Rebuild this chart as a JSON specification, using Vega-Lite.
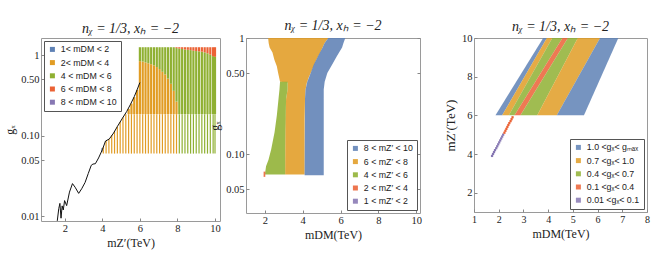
{
  "$schema": "https://vega.github.io/schema/vega-lite/v6.json",
  "padding": {"left": 3, "top": 18, "right": 4, "bottom": 2},
  "spacing": -13,
  "config": {
    "view": {"stroke": "#9a9a9a", "strokeWidth": 1},
    "font": "Liberation Serif",
    "axis": {"grid": false, "domain": false, "labelFont": "Liberation Serif", "labelFontSize": 10.5, "labelColor": "#222", "titleFont": "Liberation Serif", "titleFontSize": 12, "titleFontWeight": "normal", "titleColor": "#222", "tickColor": "#888", "tickSize": -3, "labelPadding": 5, "titlePadding": 4, "labelOverlap": false, "labelFlush": false, "labelSeparation": 0},
    "legend": {"title": null, "symbolType": "square", "symbolSize": 25, "symbolStrokeWidth": 0, "labelFont": "Liberation Sans", "labelFontSize": 8.8, "labelColor": "#222", "padding": 4, "strokeColor": "#555", "fillColor": "white", "rowPadding": 3.2, "offset": 3},
    "title": {"font": "Liberation Serif", "fontSize": 14, "fontWeight": "normal", "fontStyle": "italic", "color": "#222", "offset": 0}
  },
  "resolve": {"scale": {"color": "independent"}, "legend": {"color": "independent"}},
  "datasets": {
    "p1": [
      {"x": 3.98, "y": 0.063, "y2": 0.07, "c": "1< mDM < 2", "w": "thin"},
      {"x": 4.05, "y": 0.06, "y2": 0.072, "c": "2< mDM < 4", "w": "thin"},
      {"x": 4.2, "y": 0.06, "y2": 0.086, "c": "2< mDM < 4", "w": "thin"},
      {"x": 4.35, "y": 0.06, "y2": 0.091, "c": "2< mDM < 4", "w": "thin"},
      {"x": 4.5, "y": 0.06, "y2": 0.102, "c": "2< mDM < 4", "w": "thin"},
      {"x": 4.65, "y": 0.06, "y2": 0.115, "c": "2< mDM < 4", "w": "thin"},
      {"x": 4.8, "y": 0.06, "y2": 0.13, "c": "2< mDM < 4", "w": "thin"},
      {"x": 4.95, "y": 0.06, "y2": 0.148, "c": "2< mDM < 4", "w": "thin"},
      {"x": 5.1, "y": 0.06, "y2": 0.168, "c": "2< mDM < 4", "w": "thin"},
      {"x": 5.25, "y": 0.06, "y2": 0.185, "c": "2< mDM < 4", "w": "thin"},
      {"x": 5.4, "y": 0.06, "y2": 0.185, "c": "2< mDM < 4", "w": "thin"},
      {"x": 5.55, "y": 0.06, "y2": 0.185, "c": "2< mDM < 4", "w": "thin"},
      {"x": 5.7, "y": 0.06, "y2": 0.185, "c": "2< mDM < 4", "w": "thin"},
      {"x": 5.85, "y": 0.06, "y2": 0.185, "c": "2< mDM < 4", "w": "thin"},
      {"x": 6.0, "y": 0.06, "y2": 0.185, "c": "2< mDM < 4", "w": "thin"},
      {"x": 6.15, "y": 0.06, "y2": 0.185, "c": "2< mDM < 4", "w": "thin"},
      {"x": 6.3, "y": 0.06, "y2": 0.185, "c": "2< mDM < 4", "w": "thin"},
      {"x": 6.45, "y": 0.06, "y2": 0.185, "c": "2< mDM < 4", "w": "thin"},
      {"x": 6.6, "y": 0.06, "y2": 0.185, "c": "2< mDM < 4", "w": "thin"},
      {"x": 6.75, "y": 0.06, "y2": 0.185, "c": "2< mDM < 4", "w": "thin"},
      {"x": 6.9, "y": 0.06, "y2": 0.185, "c": "2< mDM < 4", "w": "thin"},
      {"x": 7.05, "y": 0.06, "y2": 0.185, "c": "2< mDM < 4", "w": "thin"},
      {"x": 7.2, "y": 0.06, "y2": 0.185, "c": "2< mDM < 4", "w": "thin"},
      {"x": 7.35, "y": 0.06, "y2": 0.185, "c": "2< mDM < 4", "w": "thin"},
      {"x": 7.5, "y": 0.06, "y2": 0.185, "c": "2< mDM < 4", "w": "thin"},
      {"x": 7.65, "y": 0.06, "y2": 0.185, "c": "2< mDM < 4", "w": "thin"},
      {"x": 7.8, "y": 0.06, "y2": 0.185, "c": "2< mDM < 4", "w": "thin"},
      {"x": 7.95, "y": 0.06, "y2": 0.185, "c": "2< mDM < 4", "w": "thin"},
      {"x": 8.1, "y": 0.06, "y2": 0.185, "c": "4 < mDM < 6", "w": "thin"},
      {"x": 8.25, "y": 0.06, "y2": 0.185, "c": "4 < mDM < 6", "w": "thin"},
      {"x": 8.4, "y": 0.06, "y2": 0.185, "c": "4 < mDM < 6", "w": "thin"},
      {"x": 8.55, "y": 0.06, "y2": 0.185, "c": "4 < mDM < 6", "w": "thin"},
      {"x": 8.7, "y": 0.06, "y2": 0.185, "c": "4 < mDM < 6", "w": "thin"},
      {"x": 8.85, "y": 0.06, "y2": 0.185, "c": "4 < mDM < 6", "w": "thin"},
      {"x": 9.0, "y": 0.06, "y2": 0.185, "c": "4 < mDM < 6", "w": "thin"},
      {"x": 9.15, "y": 0.06, "y2": 0.185, "c": "4 < mDM < 6", "w": "thin"},
      {"x": 9.3, "y": 0.06, "y2": 0.185, "c": "4 < mDM < 6", "w": "thin"},
      {"x": 9.45, "y": 0.06, "y2": 0.185, "c": "4 < mDM < 6", "w": "thin"},
      {"x": 9.6, "y": 0.06, "y2": 0.185, "c": "4 < mDM < 6", "w": "thin"},
      {"x": 9.75, "y": 0.06, "y2": 0.185, "c": "4 < mDM < 6", "w": "thin"},
      {"x": 9.9, "y": 0.06, "y2": 0.185, "c": "4 < mDM < 6", "w": "thin"},
      {"x": 10.0, "y": 0.06, "y2": 0.185, "c": "4 < mDM < 6", "w": "thin"},
      {"x": 5.4, "y": 0.185, "y2": 0.215, "c": "2< mDM < 4", "w": "thick"},
      {"x": 5.55, "y": 0.185, "y2": 0.25, "c": "2< mDM < 4", "w": "thick"},
      {"x": 5.7, "y": 0.185, "y2": 0.3, "c": "2< mDM < 4", "w": "thick"},
      {"x": 5.85, "y": 0.185, "y2": 0.37, "c": "2< mDM < 4", "w": "thick"},
      {"x": 6.0, "y": 0.185, "y2": 0.84, "c": "2< mDM < 4", "w": "thick"},
      {"x": 6.15, "y": 0.185, "y2": 0.83, "c": "2< mDM < 4", "w": "thick"},
      {"x": 6.3, "y": 0.185, "y2": 0.81, "c": "2< mDM < 4", "w": "thick"},
      {"x": 6.45, "y": 0.185, "y2": 0.79, "c": "2< mDM < 4", "w": "thick"},
      {"x": 6.6, "y": 0.185, "y2": 0.77, "c": "2< mDM < 4", "w": "thick"},
      {"x": 6.75, "y": 0.185, "y2": 0.745, "c": "2< mDM < 4", "w": "thick"},
      {"x": 6.9, "y": 0.185, "y2": 0.71, "c": "2< mDM < 4", "w": "thick"},
      {"x": 7.05, "y": 0.185, "y2": 0.67, "c": "2< mDM < 4", "w": "thick"},
      {"x": 7.2, "y": 0.185, "y2": 0.62, "c": "2< mDM < 4", "w": "thick"},
      {"x": 7.35, "y": 0.185, "y2": 0.575, "c": "2< mDM < 4", "w": "thick"},
      {"x": 7.5, "y": 0.185, "y2": 0.51, "c": "2< mDM < 4", "w": "thick"},
      {"x": 7.65, "y": 0.185, "y2": 0.44, "c": "2< mDM < 4", "w": "thick"},
      {"x": 7.8, "y": 0.185, "y2": 0.36, "c": "2< mDM < 4", "w": "thick"},
      {"x": 7.95, "y": 0.185, "y2": 0.265, "c": "2< mDM < 4", "w": "thick"},
      {"x": 6.0, "y": 0.84, "y2": 1.25, "c": "4 < mDM < 6", "w": "thick"},
      {"x": 6.15, "y": 0.83, "y2": 1.25, "c": "4 < mDM < 6", "w": "thick"},
      {"x": 6.3, "y": 0.81, "y2": 1.25, "c": "4 < mDM < 6", "w": "thick"},
      {"x": 6.45, "y": 0.79, "y2": 1.25, "c": "4 < mDM < 6", "w": "thick"},
      {"x": 6.6, "y": 0.77, "y2": 1.25, "c": "4 < mDM < 6", "w": "thick"},
      {"x": 6.75, "y": 0.745, "y2": 1.25, "c": "4 < mDM < 6", "w": "thick"},
      {"x": 6.9, "y": 0.71, "y2": 1.25, "c": "4 < mDM < 6", "w": "thick"},
      {"x": 7.05, "y": 0.67, "y2": 1.25, "c": "4 < mDM < 6", "w": "thick"},
      {"x": 7.2, "y": 0.62, "y2": 1.25, "c": "4 < mDM < 6", "w": "thick"},
      {"x": 7.35, "y": 0.575, "y2": 1.25, "c": "4 < mDM < 6", "w": "thick"},
      {"x": 7.5, "y": 0.51, "y2": 1.25, "c": "4 < mDM < 6", "w": "thick"},
      {"x": 7.65, "y": 0.44, "y2": 1.25, "c": "4 < mDM < 6", "w": "thick"},
      {"x": 7.8, "y": 0.36, "y2": 1.25, "c": "4 < mDM < 6", "w": "thick"},
      {"x": 7.95, "y": 0.265, "y2": 1.22, "c": "4 < mDM < 6", "w": "thick"},
      {"x": 8.1, "y": 0.185, "y2": 1.2, "c": "4 < mDM < 6", "w": "thick"},
      {"x": 8.25, "y": 0.185, "y2": 1.19, "c": "4 < mDM < 6", "w": "thick"},
      {"x": 8.4, "y": 0.185, "y2": 1.17, "c": "4 < mDM < 6", "w": "thick"},
      {"x": 8.55, "y": 0.185, "y2": 1.16, "c": "4 < mDM < 6", "w": "thick"},
      {"x": 8.7, "y": 0.185, "y2": 1.15, "c": "4 < mDM < 6", "w": "thick"},
      {"x": 8.85, "y": 0.185, "y2": 1.13, "c": "4 < mDM < 6", "w": "thick"},
      {"x": 9.0, "y": 0.185, "y2": 1.12, "c": "4 < mDM < 6", "w": "thick"},
      {"x": 9.15, "y": 0.185, "y2": 1.11, "c": "4 < mDM < 6", "w": "thick"},
      {"x": 9.3, "y": 0.185, "y2": 1.1, "c": "4 < mDM < 6", "w": "thick"},
      {"x": 9.45, "y": 0.185, "y2": 1.08, "c": "4 < mDM < 6", "w": "thick"},
      {"x": 9.6, "y": 0.185, "y2": 1.05, "c": "4 < mDM < 6", "w": "thick"},
      {"x": 9.75, "y": 0.185, "y2": 1.01, "c": "4 < mDM < 6", "w": "thick"},
      {"x": 9.9, "y": 0.185, "y2": 0.97, "c": "4 < mDM < 6", "w": "thick"},
      {"x": 10.0, "y": 0.185, "y2": 0.95, "c": "4 < mDM < 6", "w": "thick"},
      {"x": 7.95, "y": 1.22, "y2": 1.25, "c": "6 < mDM < 8", "w": "thick"},
      {"x": 8.1, "y": 1.2, "y2": 1.25, "c": "6 < mDM < 8", "w": "thick"},
      {"x": 8.25, "y": 1.19, "y2": 1.25, "c": "6 < mDM < 8", "w": "thick"},
      {"x": 8.4, "y": 1.17, "y2": 1.25, "c": "6 < mDM < 8", "w": "thick"},
      {"x": 8.55, "y": 1.16, "y2": 1.25, "c": "6 < mDM < 8", "w": "thick"},
      {"x": 8.7, "y": 1.15, "y2": 1.25, "c": "6 < mDM < 8", "w": "thick"},
      {"x": 8.85, "y": 1.13, "y2": 1.25, "c": "6 < mDM < 8", "w": "thick"},
      {"x": 9.0, "y": 1.12, "y2": 1.25, "c": "6 < mDM < 8", "w": "thick"},
      {"x": 9.15, "y": 1.11, "y2": 1.25, "c": "6 < mDM < 8", "w": "thick"},
      {"x": 9.3, "y": 1.1, "y2": 1.25, "c": "6 < mDM < 8", "w": "thick"},
      {"x": 9.45, "y": 1.08, "y2": 1.25, "c": "6 < mDM < 8", "w": "thick"},
      {"x": 9.6, "y": 1.05, "y2": 1.25, "c": "6 < mDM < 8", "w": "thick"},
      {"x": 9.75, "y": 1.01, "y2": 1.25, "c": "6 < mDM < 8", "w": "thick"},
      {"x": 9.9, "y": 0.97, "y2": 1.25, "c": "6 < mDM < 8", "w": "thick"},
      {"x": 10.0, "y": 0.95, "y2": 1.25, "c": "6 < mDM < 8", "w": "thick"}
    ],
    "p1c": [
      {"x": 1.6, "y": 0.0088}, {"x": 1.68, "y": 0.0125}, {"x": 1.74, "y": 0.0145}, {"x": 1.8, "y": 0.0095},
      {"x": 1.86, "y": 0.0135}, {"x": 1.92, "y": 0.012}, {"x": 1.99, "y": 0.0157}, {"x": 2.1, "y": 0.0136},
      {"x": 2.25, "y": 0.02}, {"x": 2.41, "y": 0.0255}, {"x": 2.55, "y": 0.023}, {"x": 2.74, "y": 0.0193},
      {"x": 2.9, "y": 0.022}, {"x": 3.08, "y": 0.0263}, {"x": 3.25, "y": 0.034}, {"x": 3.41, "y": 0.043},
      {"x": 3.5, "y": 0.0445}, {"x": 3.63, "y": 0.045}, {"x": 3.8, "y": 0.053}, {"x": 4.0, "y": 0.067},
      {"x": 4.17, "y": 0.086}, {"x": 4.37, "y": 0.091}, {"x": 4.6, "y": 0.108}, {"x": 4.8, "y": 0.13},
      {"x": 5.05, "y": 0.162}, {"x": 5.3, "y": 0.2}, {"x": 5.5, "y": 0.245}, {"x": 5.7, "y": 0.305},
      {"x": 5.85, "y": 0.37}, {"x": 6.0, "y": 0.456}
    ],
    "p2": [
      {"r": "o", "c": "6 < mZ′ < 8", "g": 1.0, "lo": 2.17, "hi": 5.35},
      {"r": "o", "c": "6 < mZ′ < 8", "g": 0.9, "lo": 2.2, "hi": 5.15},
      {"r": "o", "c": "6 < mZ′ < 8", "g": 0.83, "lo": 2.25, "hi": 5.05},
      {"r": "o", "c": "6 < mZ′ < 8", "g": 0.75, "lo": 2.4, "hi": 4.93},
      {"r": "o", "c": "6 < mZ′ < 8", "g": 0.65, "lo": 2.5, "hi": 4.72},
      {"r": "o", "c": "6 < mZ′ < 8", "g": 0.573, "lo": 2.63, "hi": 4.58},
      {"r": "o", "c": "6 < mZ′ < 8", "g": 0.5, "lo": 2.7, "hi": 4.42},
      {"r": "o", "c": "6 < mZ′ < 8", "g": 0.45, "lo": 2.76, "hi": 4.3},
      {"r": "o", "c": "6 < mZ′ < 8", "g": 0.42, "lo": 2.8, "hi": 4.24},
      {"r": "o", "c": "6 < mZ′ < 8", "g": 0.415, "lo": 3.2, "hi": 4.22},
      {"r": "o", "c": "6 < mZ′ < 8", "g": 0.36, "lo": 3.2, "hi": 4.15},
      {"r": "o", "c": "6 < mZ′ < 8", "g": 0.3, "lo": 3.12, "hi": 4.12},
      {"r": "o", "c": "6 < mZ′ < 8", "g": 0.2, "lo": 3.08, "hi": 4.1},
      {"r": "o", "c": "6 < mZ′ < 8", "g": 0.067, "lo": 3.07, "hi": 4.1},
      {"r": "b", "c": "8 < mZ′ < 10", "g": 1.0, "lo": 5.35, "hi": 6.25},
      {"r": "b", "c": "8 < mZ′ < 10", "g": 0.9, "lo": 5.15, "hi": 6.15},
      {"r": "b", "c": "8 < mZ′ < 10", "g": 0.83, "lo": 5.05, "hi": 6.08},
      {"r": "b", "c": "8 < mZ′ < 10", "g": 0.7, "lo": 4.81, "hi": 5.81},
      {"r": "b", "c": "8 < mZ′ < 10", "g": 0.59, "lo": 4.58, "hi": 5.55},
      {"r": "b", "c": "8 < mZ′ < 10", "g": 0.5, "lo": 4.42, "hi": 5.3},
      {"r": "b", "c": "8 < mZ′ < 10", "g": 0.42, "lo": 4.24, "hi": 5.16},
      {"r": "b", "c": "8 < mZ′ < 10", "g": 0.36, "lo": 4.15, "hi": 5.11},
      {"r": "b", "c": "8 < mZ′ < 10", "g": 0.3, "lo": 4.12, "hi": 5.11},
      {"r": "b", "c": "8 < mZ′ < 10", "g": 0.066, "lo": 4.1, "hi": 5.11},
      {"r": "g", "c": "4 < mZ′ < 6", "g": 0.42, "lo": 2.8, "hi": 3.2},
      {"r": "g", "c": "4 < mZ′ < 6", "g": 0.36, "lo": 2.77, "hi": 3.2},
      {"r": "g", "c": "4 < mZ′ < 6", "g": 0.3, "lo": 2.72, "hi": 3.12},
      {"r": "g", "c": "4 < mZ′ < 6", "g": 0.216, "lo": 2.63, "hi": 3.1},
      {"r": "g", "c": "4 < mZ′ < 6", "g": 0.155, "lo": 2.51, "hi": 3.08},
      {"r": "g", "c": "4 < mZ′ < 6", "g": 0.11, "lo": 2.33, "hi": 3.07},
      {"r": "g", "c": "4 < mZ′ < 6", "g": 0.09, "lo": 2.19, "hi": 3.07},
      {"r": "g", "c": "4 < mZ′ < 6", "g": 0.079, "lo": 2.06, "hi": 3.07},
      {"r": "g", "c": "4 < mZ′ < 6", "g": 0.069, "lo": 2.01, "hi": 3.07},
      {"r": "g", "c": "4 < mZ′ < 6", "g": 0.067, "lo": 2.01, "hi": 3.07},
      {"r": "r", "c": "2 < mZ′ < 4", "g": 0.071, "lo": 1.93, "hi": 2.02},
      {"r": "r", "c": "2 < mZ′ < 4", "g": 0.064, "lo": 1.93, "hi": 2.02}
    ],
    "p3": [
      {"b": "b1", "c": "1.0 <gₓ< gₘₐₓ", "mz": 6, "lo": 1.87, "hi": 2.14},
      {"b": "b1", "c": "1.0 <gₓ< gₘₐₓ", "mz": 10, "lo": 3.8, "hi": 3.95},
      {"b": "b2", "c": "0.7 <gₓ< 1.0", "mz": 6, "lo": 2.14, "hi": 2.41},
      {"b": "b2", "c": "0.7 <gₓ< 1.0", "mz": 10, "lo": 3.95, "hi": 4.17},
      {"b": "b3", "c": "0.4 <gₓ< 0.7", "mz": 6, "lo": 2.41, "hi": 2.64},
      {"b": "b3", "c": "0.4 <gₓ< 0.7", "mz": 10, "lo": 4.17, "hi": 4.58},
      {"b": "b4", "c": "0.1 <gₓ< 0.4", "mz": 6, "lo": 2.64, "hi": 2.88},
      {"b": "b4", "c": "0.1 <gₓ< 0.4", "mz": 10, "lo": 4.58, "hi": 4.8},
      {"b": "b5", "c": "0.4 <gₓ< 0.7", "mz": 6, "lo": 2.88, "hi": 3.56},
      {"b": "b5", "c": "0.4 <gₓ< 0.7", "mz": 10, "lo": 4.8, "hi": 5.2},
      {"b": "b6", "c": "0.7 <gₓ< 1.0", "mz": 6, "lo": 3.56, "hi": 4.35},
      {"b": "b6", "c": "0.7 <gₓ< 1.0", "mz": 10, "lo": 5.2, "hi": 6.1},
      {"b": "b7", "c": "1.0 <gₓ< gₘₐₓ", "mz": 6, "lo": 4.35, "hi": 5.45},
      {"b": "b7", "c": "1.0 <gₓ< gₘₐₓ", "mz": 10, "lo": 6.1, "hi": 6.84}
    ],
    "p3t": [
      {"mz": 3.9, "md": 1.73, "c": "0.01 <gₓ< 0.1"}, {"mz": 4.0, "md": 1.77, "c": "0.01 <gₓ< 0.1"},
      {"mz": 4.1, "md": 1.81, "c": "0.01 <gₓ< 0.1"}, {"mz": 4.2, "md": 1.85, "c": "0.01 <gₓ< 0.1"},
      {"mz": 4.3, "md": 1.9, "c": "0.01 <gₓ< 0.1"}, {"mz": 4.4, "md": 1.94, "c": "0.01 <gₓ< 0.1"},
      {"mz": 4.5, "md": 1.98, "c": "0.01 <gₓ< 0.1"}, {"mz": 4.6, "md": 2.02, "c": "0.01 <gₓ< 0.1"},
      {"mz": 4.7, "md": 2.06, "c": "0.01 <gₓ< 0.1"}, {"mz": 4.8, "md": 2.1, "c": "0.01 <gₓ< 0.1"},
      {"mz": 4.9, "md": 2.14, "c": "0.01 <gₓ< 0.1"}, {"mz": 5.0, "md": 2.18, "c": "0.01 <gₓ< 0.1"},
      {"mz": 5.1, "md": 2.23, "c": "0.1 <gₓ< 0.4"}, {"mz": 5.2, "md": 2.27, "c": "0.1 <gₓ< 0.4"},
      {"mz": 5.3, "md": 2.31, "c": "0.1 <gₓ< 0.4"}, {"mz": 5.4, "md": 2.35, "c": "0.1 <gₓ< 0.4"},
      {"mz": 5.5, "md": 2.39, "c": "0.1 <gₓ< 0.4"}, {"mz": 5.6, "md": 2.43, "c": "0.1 <gₓ< 0.4"},
      {"mz": 5.7, "md": 2.48, "c": "0.1 <gₓ< 0.4"}, {"mz": 5.8, "md": 2.52, "c": "0.1 <gₓ< 0.4"},
      {"mz": 5.9, "md": 2.56, "c": "0.1 <gₓ< 0.4"}
    ]
  },
  "hconcat": [
    {
      "width": 179, "height": 183,
      "title": {"text": "nᵪ = 1/3, xₕ = −2", "dy": 2},
      "layer": [
        {
          "data": {"name": "p1"},
          "transform": [{"filter": "datum.w == 'thin'"}],
          "mark": {"type": "bar", "orient": "vertical", "size": 1.2, "clip": true},
          "encoding": {
            "x": {"field": "x", "type": "quantitative", "scale": {"domain": [1, 10], "nice": false, "zero": false}, "axis": {"values": [2, 4, 6, 8, 10], "title": "mZ′(TeV)"}},
            "y": {"field": "y", "type": "quantitative", "scale": {"type": "log", "domain": [0.00877, 1.626], "nice": false}, "axis": {"values": [0.01, 0.05, 0.1, 0.5, 1], "labelExpr": "datum.value >= 1 ? '1' : format(datum.value, '.2f')", "title": "gₓ"}},
            "y2": {"field": "y2"},
            "color": {"field": "c", "type": "nominal", "scale": {"domain": ["1< mDM < 2", "2< mDM < 4", "4 < mDM < 6", "6 < mDM < 8", "8 < mDM < 10"], "range": ["#5E81B5", "#E19C24", "#8FB032", "#EB6235", "#8778B3"]}, "legend": {"orient": "top-left"}}
          }
        },
        {
          "data": {"name": "p1"},
          "transform": [{"filter": "datum.w == 'thick'"}],
          "mark": {"type": "bar", "orient": "vertical", "size": 2.2, "clip": true},
          "encoding": {
            "x": {"field": "x", "type": "quantitative"},
            "y": {"field": "y", "type": "quantitative"},
            "y2": {"field": "y2"},
            "color": {"field": "c", "type": "nominal"}
          }
        },
        {
          "data": {"name": "p1c"},
          "mark": {"type": "line", "color": "#111", "strokeWidth": 1, "clip": true},
          "encoding": {
            "x": {"field": "x", "type": "quantitative"},
            "y": {"field": "y", "type": "quantitative"}
          }
        }
      ]
    },
    {
      "width": 174, "height": 175,
      "title": {"text": "nᵪ = 1/3, xₕ = −2", "dy": 4},
      "data": {"name": "p2"},
      "resolve": {"axis": {"y": "independent"}},
      "layer": [
        {
          "transform": [{"filter": "datum.r != 'r'"}],
          "mark": {"type": "area", "orient": "horizontal", "opacity": 0.88, "clip": true},
          "encoding": {
            "y": {"field": "g", "type": "quantitative", "scale": {"type": "log", "domain": [0.0313, 1], "nice": false}, "axis": {"values": [0.05, 0.1, 0.5, 1], "labelExpr": "datum.value >= 1 ? '1' : format(datum.value, '.2f')", "title": "gₓ"}},
            "x": {"field": "lo", "type": "quantitative", "stack": null, "scale": {"domain": [1, 10.2], "nice": false, "zero": false}, "axis": {"values": [2, 4, 6, 8, 10], "title": "mDM(TeV)"}},
            "x2": {"field": "hi"},
            "detail": {"field": "r"},
            "color": {"field": "c", "type": "nominal", "scale": {"domain": ["8 < mZ′ < 10", "6 < mZ′ < 8", "4 < mZ′ < 6", "2 < mZ′ < 4", "1 < mZ′ < 2"], "range": ["#5E81B5", "#E19C24", "#8FB032", "#EB6235", "#8778B3"]}, "legend": {"orient": "bottom-right"}}
          }
        },
        {
          "transform": [{"filter": "datum.r == 'r'"}],
          "mark": {"type": "area", "orient": "horizontal", "opacity": 0.88, "clip": true},
          "encoding": {
            "y": {"field": "g", "type": "quantitative", "axis": {"orient": "right", "values": [0.05, 0.1, 0.5, 1], "labels": false, "title": null, "minExtent": 36, "maxExtent": 36}},
            "x": {"field": "lo", "type": "quantitative", "stack": null},
            "x2": {"field": "hi"},
            "detail": {"field": "r"},
            "color": {"field": "c", "type": "nominal"}
          }
        }
      ]
    },
    {
      "width": 173, "height": 174,
      "title": {"text": "nᵪ = 1/3, xₕ = −2", "dy": 5},
      "layer": [
        {
          "data": {"name": "p3"},
          "mark": {"type": "area", "orient": "horizontal", "opacity": 0.85, "clip": true},
          "encoding": {
            "y": {"field": "mz", "type": "quantitative", "scale": {"domain": [1, 10], "nice": false, "zero": false}, "axis": {"values": [2, 4, 6, 8, 10], "title": "mZ′(TeV)", "titleFontSize": 13}},
            "x": {"field": "lo", "type": "quantitative", "stack": null, "scale": {"domain": [1, 8], "nice": false, "zero": false}, "axis": {"values": [1, 2, 3, 4, 5, 6, 7, 8], "tickCount": 8, "title": "mDM(TeV)", "labelOverlap": false, "labelFlush": false, "labelSeparation": 0, "labelFontSize": 10}},
            "x2": {"field": "hi"},
            "detail": {"field": "b"},
            "color": {"field": "c", "type": "nominal", "scale": {"domain": ["1.0 <gₓ< gₘₐₓ", "0.7 <gₓ< 1.0", "0.4 <gₓ< 0.7", "0.1 <gₓ< 0.4", "0.01 <gₓ< 0.1"], "range": ["#5E81B5", "#E19C24", "#8FB032", "#EB6235", "#8778B3"]}, "legend": {"orient": "bottom-right"}}
          }
        },
        {
          "data": {"name": "p3t"},
          "mark": {"type": "point", "shape": "square", "filled": true, "size": 5, "opacity": 1},
          "encoding": {
            "y": {"field": "mz", "type": "quantitative"},
            "x": {"field": "md", "type": "quantitative"},
            "color": {"field": "c", "type": "nominal"}
          }
        }
      ]
    }
  ]
}
